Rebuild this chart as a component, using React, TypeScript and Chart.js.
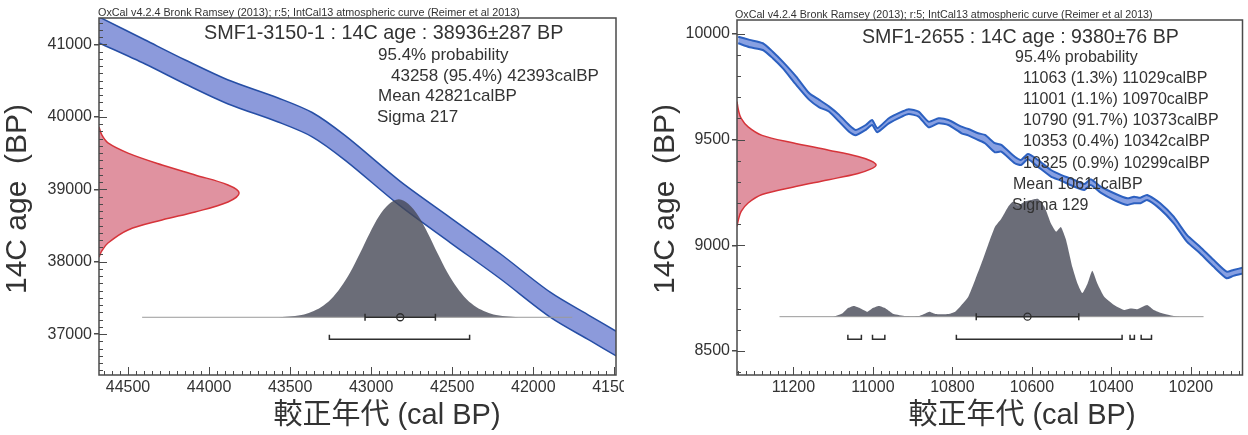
import React, { useEffect, useRef } from "react";
import { Chart, registerables } from "chart.js";

Chart.register(...registerables);

const FONT = '"Liberation Sans", Arial, "Noto Sans CJK JP", sans-serif';
const INK = "#333333";
const HEADER = "OxCal v4.2.4 Bronk Ramsey (2013); r:5; IntCal13 atmospheric curve (Reimer et al 2013)";
const Y_TITLE = "14C age  (BP)";
const X_TITLE = "較正年代 (cal BP)";

/* ---------------- Left panel: SMF1-3150-1 ---------------- */
const L_TITLE = "SMF1-3150-1 : 14C age : 38936±287 BP";
const L_INFO = ["95.4% probability", "43258 (95.4%) 42393calBP", "Mean 42821calBP", "Sigma 217"];
const L_X_TICKS = [44500, 44000, 43500, 43000, 42500, 42000, 41500];
const L_Y_TICKS = [37000, 38000, 39000, 40000, 41000];
const L_CURVE_CAL = [44678, 44394, 44147, 43882, 43574, 43364, 43160, 42821, 42513, 42204, 41896, 41649, 41489];
const L_CURVE_HI = [41379, 41061, 40785, 40509, 40261, 40060, 39740, 39110, 38610, 38110, 37580, 37250, 37040];
const L_CURVE_LO = [41020, 40730, 40454, 40178, 39929, 39725, 39400, 38770, 38265, 37765, 37235, 36910, 36700];
const L_C14_AGE = [39860, 39750, 39640, 39500, 39336, 39198, 39060, 38949, 38825, 38687, 38576, 38438, 38258, 38150, 38064];
const L_C14_PROB = [0, 0.02, 0.064, 0.207, 0.45, 0.686, 0.921, 1.0, 0.921, 0.686, 0.45, 0.207, 0.064, 0.02, 0];
const L_CAL_AGE = [43590, 43510, 43430, 43370, 43310, 43250, 43190, 43130, 43070, 43010, 42950, 42890, 42830, 42770, 42710, 42650, 42590, 42530, 42470, 42410, 42350, 42290, 42230, 42150, 42070];
const L_CAL_PROB = [0, 0.007, 0.02, 0.045, 0.085, 0.15, 0.25, 0.38, 0.54, 0.71, 0.86, 0.96, 1.0, 0.96, 0.86, 0.71, 0.54, 0.38, 0.25, 0.15, 0.085, 0.045, 0.02, 0.007, 0];
const L_BASELINE = [44413, 41760];
const L_SIGMA = [43038, 42604];
const L_MEAN = [42821];
const L_RANGE_FROM = [43258];
const L_RANGE_TO = [42393];

/* ---------------- Right panel: SMF1-2655 ---------------- */
const R_TITLE = "SMF1-2655 : 14C age : 9380±76 BP";
const R_INFO = [
  "95.4% probability",
  "11063 (1.3%) 11029calBP",
  "11001 (1.1%) 10970calBP",
  "10790 (91.7%) 10373calBP",
  "10353 (0.4%) 10342calBP",
  "10325 (0.9%) 10299calBP",
  "Mean 10611calBP",
  "Sigma 129",
];
const R_X_TICKS = [11200, 11000, 10800, 10600, 10400, 10200];
const R_Y_TICKS = [8500, 9000, 9500, 10000];
const R_CURVE_CAL = [11339, 11310, 11277, 11252, 11227, 11193, 11160, 11135, 11110, 11085, 11060, 11043, 11018, 11002, 10989, 10960, 10927, 10910, 10885, 10860, 10835, 10810, 10777, 10760, 10735, 10718, 10693, 10677, 10643, 10627, 10610, 10585, 10552, 10527, 10493, 10468, 10452, 10427, 10393, 10360, 10343, 10327, 10310, 10277, 10243, 10210, 10177, 10143, 10110, 10093, 10065];
const R_CURVE_HI = [9987, 9972, 9956, 9916, 9869, 9798, 9719, 9688, 9656, 9617, 9569, 9546, 9569, 9593, 9554, 9601, 9632, 9644, 9632, 9585, 9601, 9593, 9561, 9550, 9530, 9522, 9483, 9475, 9419, 9404, 9432, 9404, 9356, 9333, 9309, 9290, 9312, 9277, 9246, 9222, 9230, 9225, 9238, 9199, 9135, 9049, 8993, 8931, 8875, 8883, 8896];
const R_CURVE_LO = [9956, 9937, 9924, 9885, 9838, 9759, 9688, 9653, 9632, 9585, 9537, 9521, 9546, 9569, 9535, 9577, 9609, 9621, 9609, 9558, 9577, 9569, 9530, 9520, 9498, 9483, 9440, 9443, 9388, 9380, 9407, 9372, 9325, 9306, 9277, 9262, 9285, 9249, 9214, 9191, 9199, 9199, 9214, 9171, 9104, 9017, 8962, 8899, 8844, 8855, 8868];
const R_C14_AGE = [9680, 9640, 9600, 9560, 9520, 9485, 9450, 9420, 9400, 9380, 9360, 9340, 9310, 9275, 9240, 9200, 9160, 9120, 9090];
const R_C14_PROB = [0, 0.01, 0.03, 0.08, 0.18, 0.4, 0.66, 0.87, 0.96, 1.0, 0.96, 0.87, 0.66, 0.4, 0.18, 0.08, 0.03, 0.01, 0];
const R_CAL_AGE = [11100, 11077, 11064, 11048, 11031, 11014, 11002, 10985, 10968, 10948, 10918, 10885, 10868, 10858, 10843, 10810, 10793, 10777, 10760, 10743, 10727, 10710, 10693, 10677, 10660, 10648, 10635, 10618, 10602, 10585, 10568, 10552, 10539, 10527, 10514, 10498, 10485, 10473, 10460, 10448, 10435, 10418, 10393, 10368, 10352, 10335, 10310, 10293, 10277, 10243, 10227];
const R_CAL_PROB = [0, 0.028, 0.07, 0.09, 0.07, 0.042, 0.07, 0.09, 0.07, 0.023, 0.006, 0.006, 0.028, 0.042, 0.023, 0.023, 0.042, 0.1, 0.17, 0.31, 0.45, 0.61, 0.76, 0.83, 0.93, 0.975, 0.945, 0.975, 0.99, 1.0, 0.93, 0.79, 0.72, 0.76, 0.65, 0.42, 0.28, 0.2, 0.28, 0.39, 0.28, 0.17, 0.1, 0.057, 0.07, 0.064, 0.1, 0.057, 0.034, 0.006, 0];
const R_BASELINE = [11235, 10168];
const R_SIGMA = [10740, 10482];
const R_MEAN = [10611];
const R_RANGE_FROM = [11063, 11001, 10790, 10353, 10325];
const R_RANGE_TO = [11029, 10970, 10373, 10342, 10299];

type TextItem = { text: string; x: number; y: number; size: number; align?: CanvasTextAlign; rotate?: number };

const LEFT_SPEC = {
  width: 624,
  area: { left: 99, right: 616, top: 18, bottom: 375 },
  xMin: 41490, xMax: 44679, yMin: 36436, yMax: 41365,
  xTicks: L_X_TICKS, yTicks: L_Y_TICKS,
  xMinor: 50, xMajor: 500, yMinor: 100, yMajor: 1000,
  curveCal: L_CURVE_CAL, curveHi: L_CURVE_HI, curveLo: L_CURVE_LO,
  bandFill: "rgb(140,154,219)", edge: "rgb(38,78,165)", edgeW: 1.5, curveTension: 0.3,
  c14Age: L_C14_AGE, c14Prob: L_C14_PROB, c14W: 864,
  calAge: L_CAL_AGE, calProb: L_CAL_PROB, base: 37233, calH: 1629, calTension: 0.35,
  baseline: L_BASELINE, sigma: L_SIGMA, mean: L_MEAN,
  rangeFrom: L_RANGE_FROM, rangeTo: L_RANGE_TO, bracketAge: 36929, bracketTick: 62,
  texts: [
    { text: HEADER, x: 98, y: 16, size: 10.8 },
    { text: L_TITLE, x: 204, y: 38.5, size: 19.8 },
    { text: L_INFO[0], x: 378, y: 60, size: 17 },
    { text: L_INFO[1], x: 391, y: 80.5, size: 17 },
    { text: L_INFO[2], x: 378, y: 101, size: 17 },
    { text: L_INFO[3], x: 377, y: 121.5, size: 17 },
    { text: Y_TITLE, x: 26, y: 199, size: 30, align: "center", rotate: -Math.PI / 2 },
    { text: X_TITLE, x: 387, y: 424, size: 29, align: "center" },
  ] as TextItem[],
};

const RIGHT_SPEC = {
  width: 624,
  area: { left: 113, right: 622, top: 20, bottom: 375 },
  xMin: 10070, xMax: 11342, yMin: 8386, yMax: 10066,
  xTicks: R_X_TICKS, yTicks: R_Y_TICKS,
  xMinor: 20, xMajor: 200, yMinor: 100, yMajor: 500,
  curveCal: R_CURVE_CAL, curveHi: R_CURVE_HI, curveLo: R_CURVE_LO,
  bandFill: "rgb(136,160,226)", edge: "rgb(44,96,192)", edgeW: 2, curveTension: 0.2,
  c14Age: R_C14_AGE, c14Prob: R_C14_PROB, c14W: 350,
  calAge: R_CAL_AGE, calProb: R_CAL_PROB, base: 8662, calH: 558, calTension: 0.15,
  baseline: R_BASELINE, sigma: R_SIGMA, mean: R_MEAN,
  rangeFrom: R_RANGE_FROM, rangeTo: R_RANGE_TO, bracketAge: 8555, bracketTick: 21,
  texts: [
    { text: HEADER, x: 111, y: 18, size: 10.7 },
    { text: R_TITLE, x: 238, y: 42.5, size: 19.6 },
    { text: R_INFO[0], x: 391, y: 61.5, size: 16 },
    { text: R_INFO[1], x: 399, y: 82.7, size: 16 },
    { text: R_INFO[2], x: 399, y: 103.9, size: 16 },
    { text: R_INFO[3], x: 399, y: 125.1, size: 16 },
    { text: R_INFO[4], x: 399, y: 146.3, size: 16 },
    { text: R_INFO[5], x: 399, y: 167.5, size: 16 },
    { text: R_INFO[6], x: 389, y: 188.7, size: 16 },
    { text: R_INFO[7], x: 388, y: 209.9, size: 16 },
    { text: Y_TITLE, x: 50, y: 199, size: 30, align: "center", rotate: -Math.PI / 2 },
    { text: X_TITLE, x: 398, y: 424, size: 29, align: "center" },
  ] as TextItem[],
};

function makeFramePlugin(s: any) {
  return {
    id: "frame",
    afterDatasetsDraw(chart: any) {
      const { ctx, chartArea: a, scales } = chart;
      const xs = scales.x;
      const ys = scales.y;
      ctx.save();
      ctx.strokeStyle = "#4a4a4a";
      ctx.lineWidth = 1;
      const x0 = Math.ceil(xs.min / s.xMinor) * s.xMinor;
      for (let v = x0; v <= xs.max; v += s.xMinor) {
        const px = Math.round(xs.getPixelForValue(v)) + 0.5;
        const len = v % s.xMajor === 0 ? 8 : 4;
        ctx.beginPath();
        ctx.moveTo(px, a.bottom);
        ctx.lineTo(px, a.bottom - len);
        ctx.stroke();
      }
      const y0 = Math.ceil(ys.min / s.yMinor) * s.yMinor;
      for (let v = y0; v <= ys.max; v += s.yMinor) {
        const py = Math.round(ys.getPixelForValue(v)) + 0.5;
        const len = v % s.yMajor === 0 ? 8 : 4;
        ctx.beginPath();
        ctx.moveTo(a.left, py);
        ctx.lineTo(a.left + len, py);
        ctx.stroke();
      }
      ctx.lineWidth = 1.5;
      ctx.strokeRect(a.left, a.top, a.right - a.left, a.bottom - a.top);
      ctx.restore();
    },
  };
}

function makeTextPlugin(items: TextItem[]) {
  return {
    id: "texts",
    afterDraw(chart: any) {
      const ctx = chart.ctx;
      for (const t of items) {
        ctx.save();
        ctx.fillStyle = INK;
        ctx.font = `${t.size}px ${FONT}`;
        ctx.textAlign = t.align || "left";
        ctx.textBaseline = "alphabetic";
        ctx.translate(t.x, t.y);
        if (t.rotate) ctx.rotate(t.rotate);
        ctx.fillText(t.text, 0, 0);
        ctx.restore();
      }
    },
  };
}

function buildConfig(s: any): any {
  const pts = (xs: number[], ys: number[]) => xs.map((x, i) => ({ x, y: ys[i] }));
  const brackets: any[] = [];
  s.rangeFrom.forEach((from: number, i: number) => {
    const to = s.rangeTo[i];
    brackets.push({ x: from, y: s.bracketAge + s.bracketTick });
    brackets.push({ x: from, y: s.bracketAge });
    brackets.push({ x: to, y: s.bracketAge });
    brackets.push({ x: to, y: s.bracketAge + s.bracketTick });
    brackets.push({ x: to, y: null });
  });
  const dark = "#2e2e2e";
  const datasets: any[] = [
    {
      data: s.mean.map((m: number) => ({ x: m, y: s.base })),
      showLine: false, pointStyle: "circle", pointRadius: 3.5,
      pointBorderColor: dark, pointBorderWidth: 1.3, pointBackgroundColor: "rgba(0,0,0,0)", order: 0,
    },
    {
      data: pts(s.sigma, [s.base, s.base]),
      showLine: true, borderColor: dark, borderWidth: 1.5,
      pointStyle: "line", pointRadius: 3.5, pointRotation: 90,
      pointBorderColor: dark, pointBorderWidth: 1.5, order: 1,
    },
    {
      data: brackets, showLine: true, spanGaps: false, borderColor: dark, borderWidth: 1.5,
      pointRadius: 0, order: 1,
    },
    {
      data: pts(s.baseline, [s.base, s.base]),
      showLine: true, borderColor: "#9a9a9a", borderWidth: 1, pointRadius: 0, order: 2,
    },
    {
      data: s.calAge.map((c: number, i: number) => ({ x: c, y: s.base + s.calProb[i] * s.calH })),
      showLine: true, fill: { value: s.base }, backgroundColor: "rgba(70,72,86,0.8)",
      borderColor: "rgba(0,0,0,0)", borderWidth: 1, pointRadius: 0, tension: s.calTension, order: 3,
    },
    {
      data: s.c14Age.map((a: number, i: number) => ({ x: s.xMax - s.c14Prob[i] * s.c14W, y: a })),
      showLine: true, fill: "shape", backgroundColor: "rgb(224,146,160)",
      borderColor: "rgb(214,52,58)", borderWidth: 1.5, pointRadius: 0, tension: 0.35, order: 4,
    },
    {
      data: pts(s.curveCal, s.curveHi),
      showLine: true, borderColor: s.edge, borderWidth: s.edgeW, pointRadius: 0,
      tension: s.curveTension, fill: false, order: 5,
    },
    {
      data: pts(s.curveCal, s.curveLo),
      showLine: true, borderColor: s.edge, borderWidth: s.edgeW, pointRadius: 0,
      tension: s.curveTension, fill: "-1", backgroundColor: s.bandFill, order: 6,
    },
  ];
  const tickFont = { family: FONT, size: 16 };
  return {
    type: "scatter",
    data: { datasets },
    options: {
      animation: false,
      responsive: false,
      events: [],
      layout: { padding: { left: 0, right: s.width - s.area.right, top: s.area.top, bottom: 0 } },
      plugins: { legend: { display: false }, tooltip: { enabled: false } },
      scales: {
        x: {
          type: "linear", reverse: true, min: s.xMin, max: s.xMax,
          afterBuildTicks: (sc: any) => { sc.ticks = s.xTicks.map((v: number) => ({ value: v })); },
          afterFit: (sc: any) => { sc.height = 435 - s.area.bottom; sc.paddingLeft = 0; sc.paddingRight = 0; },
          grid: { drawOnChartArea: false, drawTicks: false },
          border: { display: false },
          ticks: { font: tickFont, color: INK, padding: 3, autoSkip: false, maxRotation: 0, callback: (v: any) => String(v) },
        },
        y: {
          type: "linear", min: s.yMin, max: s.yMax,
          afterBuildTicks: (sc: any) => { sc.ticks = s.yTicks.map((v: number) => ({ value: v })); },
          afterFit: (sc: any) => { sc.width = s.area.left; sc.paddingTop = 0; sc.paddingBottom = 0; },
          grid: { drawOnChartArea: false, drawTicks: true, tickLength: 5, color: "#4a4a4a", lineWidth: 1.5 },
          border: { display: false },
          ticks: { font: tickFont, color: INK, padding: 2, autoSkip: false, callback: (v: any) => String(v) },
        },
      },
    },
    plugins: [makeFramePlugin(s), makeTextPlugin(s.texts)],
  };
}

function Panel({ spec, left }: { spec: any; left: number }) {
  const ref = useRef<HTMLCanvasElement>(null);
  useEffect(() => {
    const chart = new Chart(ref.current as HTMLCanvasElement, buildConfig(spec));
    return () => chart.destroy();
  }, [spec]);
  return (
    <canvas
      ref={ref}
      width={spec.width}
      height={435}
      style={{ position: "absolute", left, top: 0, width: spec.width, height: 435 }}
    />
  );
}

export default function App() {
  return (
    <div style={{ position: "fixed", left: 0, top: 0, width: 1248, height: 435, background: "#ffffff", overflow: "hidden" }}>
      <Panel spec={LEFT_SPEC} left={0} />
      <Panel spec={RIGHT_SPEC} left={624} />
    </div>
  );
}
